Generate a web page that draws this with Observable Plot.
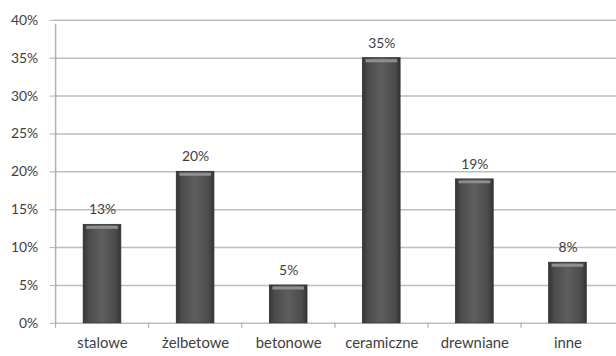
<!DOCTYPE html>
<html>
<head>
<meta charset="utf-8">
<script src="https://cdn.jsdelivr.net/npm/d3@7"></script>
<script src="https://cdn.jsdelivr.net/npm/@observablehq/plot@0.6"></script>
<style>
  html, body { margin: 0; padding: 0; background: #fff; overflow: hidden; }
  #chart { width: 616px; height: 356px; overflow: hidden; }
</style>
</head>
<body>
<div id="chart"></div>
<script>
const categories = ["stalowe", "żelbetowe", "betonowe", "ceramiczne", "drewniane", "inne"];
const values = [13, 20, 5, 35, 19, 8];
const yTicks = [0, 5, 10, 15, 20, 25, 30, 35, 40];

const data = categories.map((c, i) => ({category: c, value: values[i]}));

const W = 622, H = 356, ML = 54, MR = 0, MT = 20, MB = 30;
const band = (W - ML - MR) / categories.length;
const textColor = "#404040";
const font = "Lato, 'Open Sans', sans-serif";

const plot = Plot.plot({
  width: W,
  height: H,
  marginLeft: ML,
  marginRight: MR,
  marginTop: MT,
  marginBottom: MB,
  style: {fontFamily: font, background: "#fff", color: textColor},
  x: {domain: categories, paddingInner: 0.6, paddingOuter: 0.3, align: 0.5, label: null},
  y: {domain: [0, 40], label: null},
  marks: [
    Plot.gridY(yTicks, {stroke: "#bdbdbd", strokeOpacity: 1, strokeWidth: 1.5}),
    Plot.ruleX([categories[0]], {dx: -band / 2, y1: 0, y2: 40, stroke: "#b0b0b0", strokeWidth: 1.5, insetBottom: -4}),
    Plot.axisY(yTicks, {tickSize: 4, tickPadding: 12, tickFormat: d => d + "%", stroke: "#b0b0b0", fontSize: 14, fill: textColor, label: null}),
    Plot.axisX({tickSize: 5, dx: -band / 2, tickFormat: () => "", stroke: "#a0a0a0", label: null}),
    Plot.axisX({tickSize: 0, tickPadding: 14, fontSize: 15, fill: textColor, label: null}),
    Plot.barY(data, {x: "category", y: "value", fill: "url(#barGrad)", stroke: "#2e2e2e", strokeWidth: 0.8}),
    Plot.tickY(data, {x: "category", y: "value", dy: 2.5, insetLeft: 3, insetRight: 3, stroke: "#8f8f8f", strokeWidth: 3}),
    Plot.text(data, {x: "category", y: "value", text: d => d.value + "%", dy: -15, fontSize: 14, fill: textColor})
  ]
});

const svg = d3.select(plot);
const defs = svg.insert("defs", ":first-child");
const g = defs.append("linearGradient").attr("id", "barGrad").attr("x1", "0").attr("x2", "1").attr("y1", "0").attr("y2", "0");
g.append("stop").attr("offset", "0%").attr("stop-color", "#353535");
g.append("stop").attr("offset", "15%").attr("stop-color", "#4c4c4c");
g.append("stop").attr("offset", "50%").attr("stop-color", "#5e5e5e");
g.append("stop").attr("offset", "85%").attr("stop-color", "#4c4c4c");
g.append("stop").attr("offset", "100%").attr("stop-color", "#353535");

document.getElementById("chart").appendChild(plot);
</script>
</body>
</html>
